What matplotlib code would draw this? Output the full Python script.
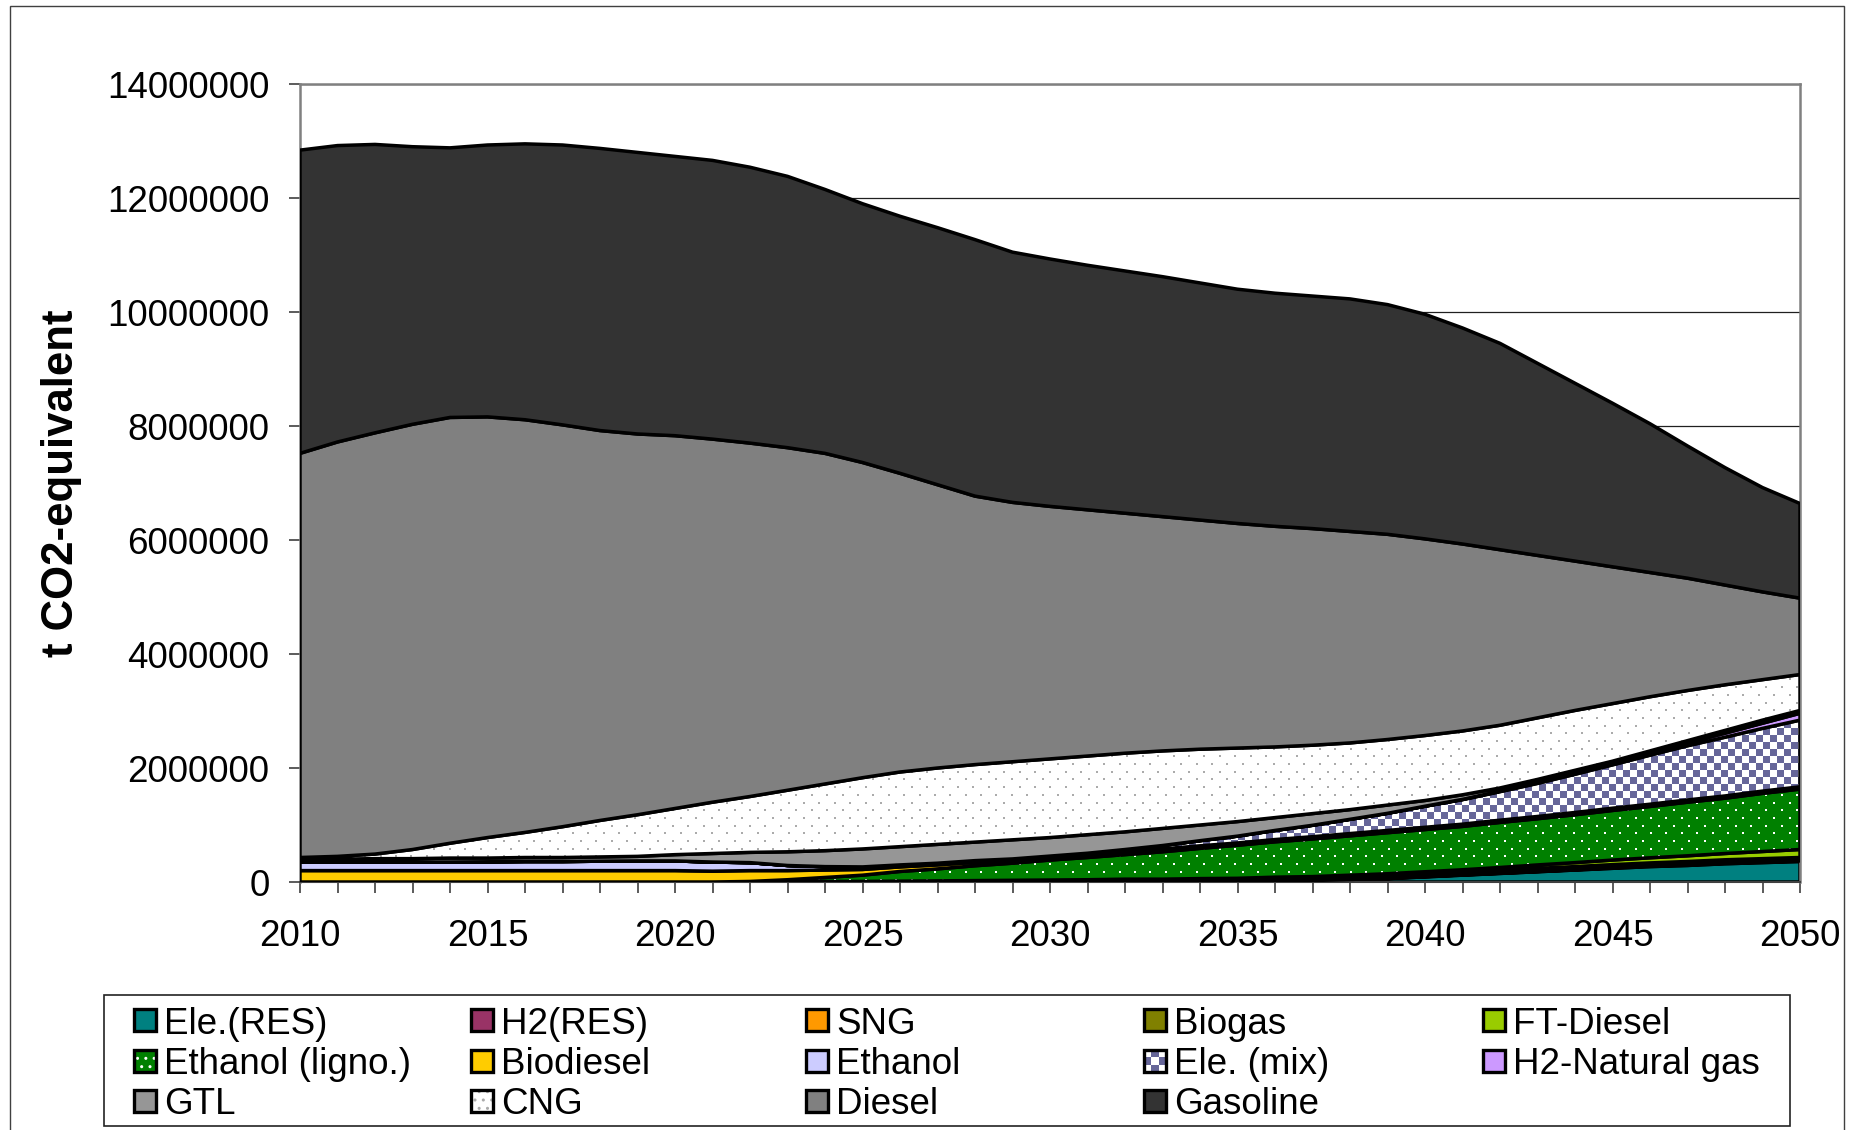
import numpy as np
import matplotlib
matplotlib.use("Agg")
import matplotlib.pyplot as plt
from matplotlib.patches import Rectangle
from matplotlib.colors import to_rgba
from matplotlib.ticker import FixedLocator, FuncFormatter

plt.rcParams["font.family"] = ["Liberation Sans", "DejaVu Sans"]

# ---------------------------------------------------------------- data
years = list(range(2010, 2051))
UNIT = 1e6  # series below are given in million t CO2-equivalent

ele_res = [0] * 26 + [0.01, 0.02, 0.04, 0.06, 0.09, 0.12, 0.15, 0.18, 0.21,
                      0.24, 0.27, 0.29, 0.32, 0.34, 0.36]
h2_res = [0] * 25 + [0.005] * 10 + [0.01] * 6
sng = [0] * 14 + [0.005, 0.005, 0.01, 0.01, 0.015, 0.015, 0.02, 0.02, 0.025,
                  0.025] + [0.03] * 17
biogas = [0] * 14 + [0.005, 0.005, 0.005] + [0.01] * 5 + [0.015] * 4 \
    + [0.02] * 7 + [0.025] * 4 + [0.03] * 4
ft_diesel = [0] * 19 + [0.005, 0.005, 0.01, 0.01, 0.01, 0.015, 0.015, 0.02,
                        0.02, 0.025, 0.03, 0.035, 0.04, 0.05, 0.06, 0.07,
                        0.08, 0.09, 0.10, 0.11, 0.125, 0.14]
ethanol_ligno = [0] * 12 + [0.01, 0.04, 0.07, 0.11, 0.17, 0.21, 0.26, 0.30,
                            0.35, 0.39, 0.43, 0.48, 0.53, 0.58, 0.62, 0.66,
                            0.69, 0.72, 0.74, 0.76, 0.79, 0.81, 0.84, 0.87,
                            0.90, 0.94, 0.97, 1.02, 1.06]
biodiesel = [0.20] * 11 + [0.19, 0.19, 0.16, 0.13, 0.10, 0.08, 0.07, 0.06,
                           0.05, 0.04, 0.035, 0.03, 0.03, 0.025] + [0.02] * 16
ethanol = [0.15, 0.15, 0.15, 0.15, 0.15, 0.155, 0.16, 0.16, 0.165, 0.17,
           0.17, 0.16, 0.14, 0.09, 0.06, 0.045, 0.035, 0.03, 0.03, 0.025] \
    + [0.02] * 21
ele_mix = [0] * 20 + [0.01, 0.02, 0.04, 0.06, 0.09, 0.12, 0.16, 0.20, 0.25,
                      0.30, 0.37, 0.43, 0.50, 0.58, 0.67, 0.76, 0.86, 0.95,
                      1.03, 1.10, 1.17]
h2_natgas = [0] * 31 + [0.005, 0.01, 0.015, 0.02, 0.03, 0.04, 0.055, 0.07,
                        0.09, 0.12]
gtl = [0.05, 0.05, 0.06, 0.06, 0.07, 0.065, 0.07, 0.07, 0.075, 0.08,
       0.11, 0.15, 0.18, 0.24, 0.28, 0.315, 0.32, 0.33, 0.325, 0.335,
       0.325, 0.325, 0.31, 0.30, 0.275, 0.255, 0.225, 0.205, 0.17, 0.145,
       0.10, 0.08, 0.055, 0.055, 0.05, 0.035, 0.035, 0.035, 0.05, 0.055,
       0.05]
cng = [0.03, 0.05, 0.08, 0.16, 0.26, 0.36, 0.44, 0.54, 0.64, 0.73,
       0.81, 0.90, 0.98, 1.08, 1.17, 1.25, 1.31, 1.34, 1.36, 1.37,
       1.38, 1.38, 1.38, 1.36, 1.33, 1.29, 1.24, 1.20, 1.17, 1.15,
       1.14, 1.12, 1.10, 1.08, 1.05, 1.01, 0.95, 0.88, 0.80, 0.71,
       0.63]
diesel = [7.09, 7.27, 7.39, 7.46, 7.47, 7.38, 7.24, 7.05, 6.84, 6.68,
          6.54, 6.37, 6.20, 6.01, 5.80, 5.53, 5.24, 4.97, 4.71, 4.55,
          4.43, 4.32, 4.21, 4.11, 4.02, 3.94, 3.87, 3.80, 3.71, 3.60,
          3.45, 3.28, 3.08, 2.85, 2.62, 2.40, 2.18, 1.97, 1.75, 1.54,
          1.34]
gasoline = [5.32, 5.20, 5.06, 4.87, 4.73, 4.77, 4.84, 4.91, 4.95, 4.94,
            4.90, 4.89, 4.84, 4.76, 4.63, 4.54, 4.51, 4.51, 4.50, 4.39,
            4.34, 4.29, 4.25, 4.21, 4.16, 4.11, 4.09, 4.08, 4.08, 4.03,
            3.94, 3.79, 3.62, 3.37, 3.12, 2.87, 2.61, 2.32, 2.06, 1.83,
            1.66]

labels = ["Ele.(RES)", "H2(RES)", "SNG", "Biogas", "FT-Diesel",
          "Ethanol (ligno.)", "Biodiesel", "Ethanol", "Ele. (mix)",
          "H2-Natural gas", "GTL", "CNG", "Diesel", "Gasoline"]
series = [ele_res, h2_res, sng, biogas, ft_diesel, ethanol_ligno, biodiesel,
          ethanol, ele_mix, h2_natgas, gtl, cng, diesel, gasoline]
colors = ["#008080", "#993366", "#FF9900", "#808000", "#99CC00", "#008000",
          "#FFCC00", "#CCCCFF", "#666699", "#CC99FF", "#969696", "#FFFFFF",
          "#808080", "#333333"]
textures = {"Ethanol (ligno.)": ("dots", "#008000", "#FFFFFF"),
            "Ele. (mix)": ("checker", "#666699", "#FFFFFF"),
            "CNG": ("dots", "#FFFFFF", "#ABABAB")}

y_ticks = [0, 2000000, 4000000, 6000000, 8000000, 10000000, 12000000,
           14000000]
x_label_years = [2010, 2015, 2020, 2025, 2030, 2035, 2040, 2045, 2050]

# ---------------------------------------------------------------- figure
W, H = 1857, 1130
fig = plt.figure(figsize=(W / 100, H / 100), dpi=100)
AX_L, AX_R, AX_T, AX_B = 300, 1800, 84, 882
ax = fig.add_axes([AX_L / W, 1 - AX_B / H, (AX_R - AX_L) / W,
                   (AX_B - AX_T) / H])
PW, PH = AX_R - AX_L, AX_B - AX_T


def make_texture(kind, bg, fg):
    img = np.empty((PH, PW, 4))
    img[:] = to_rgba(bg)
    c = to_rgba(fg)
    if kind == "dots":
        dx, dy = 15.4, 7.7
        for r, yy in enumerate(np.arange(2.0, PH, dy)):
            off = 0.0 if r % 2 == 0 else dx / 2
            for xx in np.arange(3.0 + off, PW, dx):
                yi, xi = int(yy), int(xx)
                img[yi:yi + 2, xi:xi + 2] = c
    else:
        s = 7
        yy, xx = np.mgrid[0:PH, 0:PW]
        mask = ((yy // s) + (xx // s)) % 2 == 0
        img[mask] = c
    return img


x = np.array(years, dtype=float)
base = np.zeros(len(years))
for i, (lab, vals, col) in enumerate(zip(labels, series, colors)):
    top = base + np.array(vals) * UNIT
    z = 2 + i * 0.3
    poly = ax.fill_between(x, base, top, facecolor=col, edgecolor="none",
                           linewidth=0, zorder=z)
    if lab in textures:
        kind, bg, fg = textures[lab]
        im = ax.imshow(make_texture(kind, bg, fg),
                       extent=(years[0], years[-1], 0, y_ticks[-1]),
                       aspect="auto", interpolation="nearest", zorder=z + 0.1)
        im.set_clip_path(poly.get_paths()[0], transform=ax.transData)
    ax.fill_between(x, base, top, facecolor="none", edgecolor="black",
                    linewidth=2.5, zorder=z + 0.2)
    base = top

ax.set_xlim(years[0], years[-1])
ax.set_ylim(0, y_ticks[-1])
ax.set_aspect("auto")

ax.xaxis.set_major_locator(FixedLocator(years))
ax.xaxis.set_major_formatter(
    FuncFormatter(lambda v, p: str(int(round(v)))
                  if int(round(v)) in x_label_years else ""))
ax.yaxis.set_major_locator(FixedLocator(y_ticks))
ax.yaxis.set_major_formatter(FuncFormatter(lambda v, p: "%d" % v))
ax.tick_params(axis="both", direction="out", length=8, width=1.2,
               color="#404040", labelsize=26.5, labelcolor="black")
ax.tick_params(axis="x", pad=19)
ax.tick_params(axis="y", pad=14)
ax.grid(axis="y", color="#202020", linewidth=0.9, zorder=1)
ax.set_axisbelow(True)
for side in ["top", "right", "left"]:
    ax.spines[side].set_color("#808080")
    ax.spines[side].set_linewidth(1.8)
ax.spines["bottom"].set_color("#404040")
ax.spines["bottom"].set_linewidth(1.5)

fig.text(62 / W, 1 - 483 / H, "t CO2-equivalent", rotation=90,
         ha="center", va="center", fontsize=31.5, fontweight="bold")

# ---------------------------------------------------------------- legend
def fx(px):
    return px / W


def fy(py):
    return 1 - py / H


fig.patches.append(Rectangle((fx(104), fy(1126)), fx(1790) - fx(104),
                             fy(995) - fy(1126), transform=fig.transFigure,
                             facecolor="white", edgecolor="#222222",
                             linewidth=1.2, zorder=1))
col_x = [134, 471, 806, 1144, 1483]
row_y = [1020, 1061, 1101]
SW = 22
for k, (lab, col) in enumerate(zip(labels, colors)):
    r, c = divmod(k, 5)
    x0, yc = col_x[c], row_y[r]
    y0 = yc + SW / 2
    rect_kw = dict(transform=fig.transFigure, zorder=3)
    sw = (fx(x0), fy(y0)), fx(x0 + SW) - fx(x0), fy(yc - SW / 2) - fy(y0)
    if lab in textures:
        kind, bg, fg = textures[lab]
        if kind == "dots":
            fig.patches.append(Rectangle(*sw, facecolor=bg, edgecolor=fg,
                                         hatch="..", linewidth=0, **rect_kw))
        else:
            fig.patches.append(Rectangle(*sw, facecolor=bg, edgecolor="none",
                                         **rect_kw))
            n = 3
            cs = SW / n
            for a in range(n):
                for b in range(n):
                    if (a + b) % 2 == 0:
                        fig.patches.append(Rectangle(
                            (fx(x0 + a * cs), fy(y0 - b * cs)),
                            fx(x0 + cs) - fx(x0), fy(y0 - cs) - fy(y0),
                            facecolor=fg, edgecolor="none", **rect_kw))
    else:
        fig.patches.append(Rectangle(*sw, facecolor=col, edgecolor="none",
                                     **rect_kw))
    fig.patches.append(Rectangle(*sw, facecolor="none", edgecolor="black",
                                 linewidth=2.4, transform=fig.transFigure,
                                 zorder=4))
    fig.text(fx(x0 + SW + 8), fy(yc), lab, ha="left", va="center_baseline",
             fontsize=26.5)

# outer chart frame
fig.patches.append(Rectangle((fx(9.5), fy(1160)), fx(1844) - fx(9.5),
                             fy(5.5) - fy(1160), transform=fig.transFigure,
                             facecolor="none", edgecolor="#404040",
                             linewidth=1.0, clip_on=False, zorder=0))

fig.savefig("out.png", dpi=100)
